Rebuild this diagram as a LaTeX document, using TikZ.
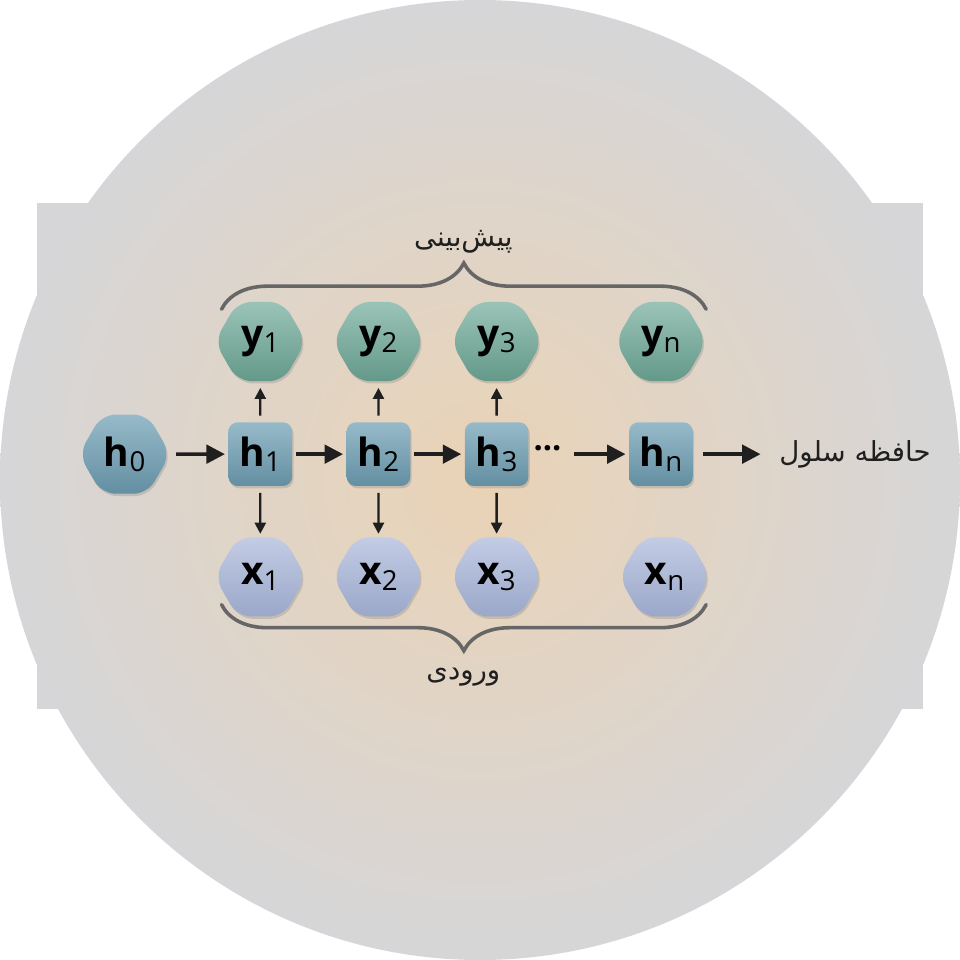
\documentclass[tikz,border=0pt]{standalone}
\usepackage{fontspec}
\setmainfont{Open Sans}
\newfontfamily\fa[Script=Arabic]{DejaVu Sans}
\TeXXeTstate=1
\usetikzlibrary{shapes.geometric,decorations.pathreplacing,shadows,arrows.meta}
\definecolor{ycol}{HTML}{6FAA98}
\definecolor{hcol}{HTML}{6E9FB4}
\definecolor{xcol}{HTML}{A8B6DA}
\definecolor{bgin}{HTML}{EAD3B6}
\definecolor{bgout}{HTML}{D6D6D8}
\tikzset{
 hexa/.style={regular polygon,regular polygon sides=6,minimum size=1.98cm,rounded corners=0.3cm,draw=none,drop shadow={opacity=0.3,shadow xshift=0.03cm,shadow yshift=-0.05cm},font=\bfseries\fontsize{24}{26}\selectfont,inner sep=0pt},
 yy/.style={hexa,top color=ycol!70!white,bottom color=ycol!90!black},
 xx/.style={hexa,top color=xcol!70!white,bottom color=xcol!92!black},
 hh/.style={rounded corners=0.2cm,minimum size=1.38cm,top color=hcol!72!white,bottom color=hcol!90!black,drop shadow={opacity=0.3,shadow xshift=0.03cm,shadow yshift=-0.05cm},font=\bfseries\fontsize{24}{26}\selectfont,inner sep=0pt},
 arr/.style={-{Triangle[length=0.4cm,width=0.4cm]},line width=2.2pt,color=black!88},
 sarr/.style={-{Triangle[length=0.24cm,width=0.24cm]},line width=1.4pt,color=black!88},
 br/.style={decorate,decoration={brace,amplitude=1cm},line width=2.2pt,color=black!60,line cap=round},
 lab/.style={font=\fa\fontsize{17}{20}\selectfont,text=black!88},
}
\newcommand{\subl}[2]{#1\raisebox{-0.25ex}{\mdseries\fontsize{17}{18}\selectfont #2}}
\begin{document}
\begin{tikzpicture}[x=0.02cm,y=0.02cm]
\fill[bgout] (0,0) rectangle (960,-548);
\shade[inner color=bgin,outer color=bgout] (480,-300) circle (520);
\useasboundingbox (0,0) rectangle (960,-548);
\foreach \n/\x/\t in {y1/242/1,y2/370/2,y3/498/3,yn/676/n}{
 \node[yy] (\n) at (\x,-150) {\subl{y}{\t}};}
\foreach \n/\x/\t in {x1/242/1,x2/370/2,x3/498/3,xn/680/n}{
 \node[xx] (\n) at (\x,-405) {\subl{x}{\t}};}
\node[hexa,top color=hcol!72!white,bottom color=hcol!90!black] (h0) at (95,-272) {\subl{h}{0}};
\foreach \n/\x/\t in {h1/242/1,h2/370/2,h3/498/3,hn/676/n}{
 \node[hh] (\n) at (\x,-272) {\subl{h}{\t}};}
\node[font=\bfseries\fontsize{20}{20}\selectfont] (dots) at (553,-266) {...};
\coordinate (d2) at (582,-272);
\node[lab,anchor=west] (mem) at (798,-272) {\beginR حافظه سلول\endR};
\draw[arr] (h0.east) ++(6,0) -- ([xshift=-2]h1.west);
\draw[arr] ([xshift=2]h1.east) -- ([xshift=-2]h2.west);
\draw[arr] ([xshift=2]h2.east) -- ([xshift=-2]h3.west);
\draw[arr] (d2) -- ([xshift=-2]hn.west);
\draw[arr] ([xshift=6]hn.east) -- ([xshift=-8]mem.west);
\foreach \i in {1,2,3}{
 \draw[sarr] ([yshift=4]h\i.north) -- ([yshift=-4]y\i.south);
 \draw[sarr] ([yshift=-4]h\i.south) -- ([yshift=2]x\i.north);}
\draw[br] (200,-115) -- (725,-115);
\draw[br] (725,-435) -- (200,-435);
\node[lab] (pred) at (462,-42) {\beginR پیش‌بینی\endR};
\node[lab] (inp) at (462,-514) {\beginR ورودی\endR};
\end{tikzpicture}
\end{document}
